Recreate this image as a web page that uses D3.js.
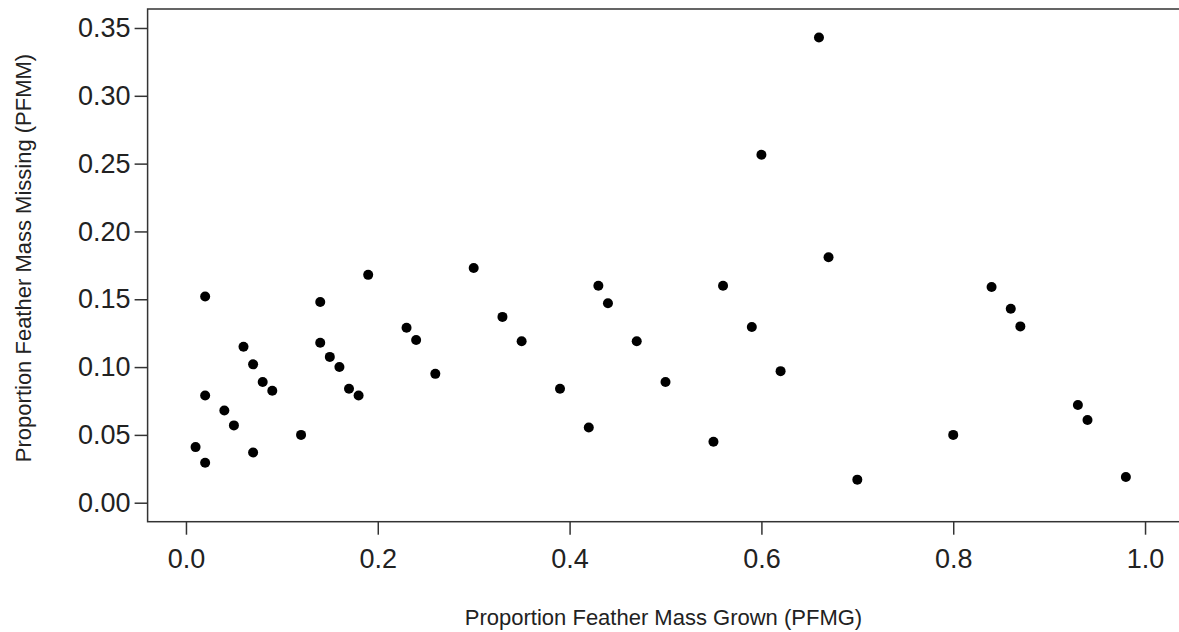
<!DOCTYPE html>
<html>
<head>
<meta charset="utf-8">
<script src="https://cdn.jsdelivr.net/npm/d3@7"></script>
<style>
  html, body { margin: 0; padding: 0; background: #fff; }
  svg { display: block; font-family: "Liberation Sans", Arial, sans-serif; }
  .axis text { fill: #222; }
  .axis line { stroke: #333; stroke-width: 1.5; }
</style>
</head>
<body>
<div class="scatter-container"></div>
<script>
// proportion feather mass grown (x)
const pfmg = [0.01, 0.02, 0.02, 0.02, 0.04, 0.05, 0.06, 0.07, 0.07, 0.08,
              0.09, 0.12, 0.14, 0.14, 0.15, 0.16, 0.17, 0.18, 0.19, 0.23,
              0.24, 0.26, 0.30, 0.33, 0.35, 0.39, 0.42, 0.43, 0.44, 0.47,
              0.50, 0.55, 0.56, 0.59, 0.60, 0.62, 0.66, 0.67, 0.70, 0.80,
              0.84, 0.86, 0.87, 0.93, 0.94, 0.98];
// proportion feather mass missing (y)
const pfmm = [0.041, 0.152, 0.079, 0.0295, 0.068, 0.057, 0.115, 0.102, 0.037, 0.089,
              0.0825, 0.050, 0.148, 0.118, 0.1075, 0.100, 0.084, 0.079, 0.168, 0.129,
              0.120, 0.095, 0.173, 0.137, 0.119, 0.084, 0.0555, 0.160, 0.147, 0.119,
              0.089, 0.045, 0.160, 0.1295, 0.2565, 0.097, 0.343, 0.181, 0.017, 0.050,
              0.159, 0.143, 0.130, 0.072, 0.061, 0.019];
const xTicks = [0, 0.2, 0.4, 0.6, 0.8, 1.0];
const yTicks = [0, 0.05, 0.10, 0.15, 0.20, 0.25, 0.30, 0.35];

const points = pfmg.map((x, i) => ({x: x, y: pfmm[i]}));

const svg_width = 1179;
const svg_height = 632;
const plot = {left: 147.6, right: 1183.4, top: 9, bottom: 521.7};

const svg = d3.select('.scatter-container').append('svg')
  .attr('width', svg_width).attr('height', svg_height);

// R style: limits widened 4% beyond 0..1 and 0..0.35
const xScale = d3.scaleLinear().domain([-0.04, 1.04]).range([plot.left, plot.right]);
const yScale = d3.scaleLinear().domain([-0.014, 0.364]).range([plot.bottom, plot.top]);

const xAxis = d3.axisBottom(xScale).tickValues(xTicks)
  .tickFormat(d3.format('.1f')).tickSizeInner(13).tickSizeOuter(0).tickPadding(14);
const xAxisDraw = svg.append('g').attr('class', 'x axis')
  .attr('transform', `translate(0, ${plot.bottom})`)
  .call(xAxis);
xAxisDraw.select('.domain').remove();
xAxisDraw.selectAll('text').style('font-size', '27px');

const yAxis = d3.axisLeft(yScale).tickValues(yTicks)
  .tickFormat(d3.format('.2f')).tickSizeInner(13).tickSizeOuter(0).tickPadding(4);
const yAxisDraw = svg.append('g').attr('class', 'y axis')
  .attr('transform', `translate(${plot.left}, 0)`)
  .call(yAxis);
yAxisDraw.select('.domain').remove();
yAxisDraw.selectAll('text').style('font-size', '27px');

// plot box
svg.append('rect')
  .attr('x', plot.left).attr('y', plot.top)
  .attr('width', plot.right - plot.left).attr('height', plot.bottom - plot.top)
  .style('fill', 'none').style('stroke', '#333').style('stroke-width', 1.5);

// points
svg.selectAll('.dot')
  .data(points)
  .enter()
  .append('circle')
  .attr('class', 'dot')
  .attr('cx', d => xScale(d.x))
  .attr('cy', d => yScale(d.y))
  .attr('r', 5)
  .style('fill', '#000');

// axis titles
svg.append('text')
  .attr('x', (186 + 1145) / 2 - 2).attr('y', 625)
  .attr('text-anchor', 'middle')
  .style('font-size', '22px').style('fill', '#222')
  .text('Proportion Feather Mass Grown (PFMG)');

svg.append('text')
  .attr('transform', `translate(31, 258) rotate(-90)`)
  .attr('text-anchor', 'middle')
  .style('font-size', '22px').style('fill', '#222')
  .text('Proportion Feather Mass Missing (PFMM)');
</script>
</body>
</html>
